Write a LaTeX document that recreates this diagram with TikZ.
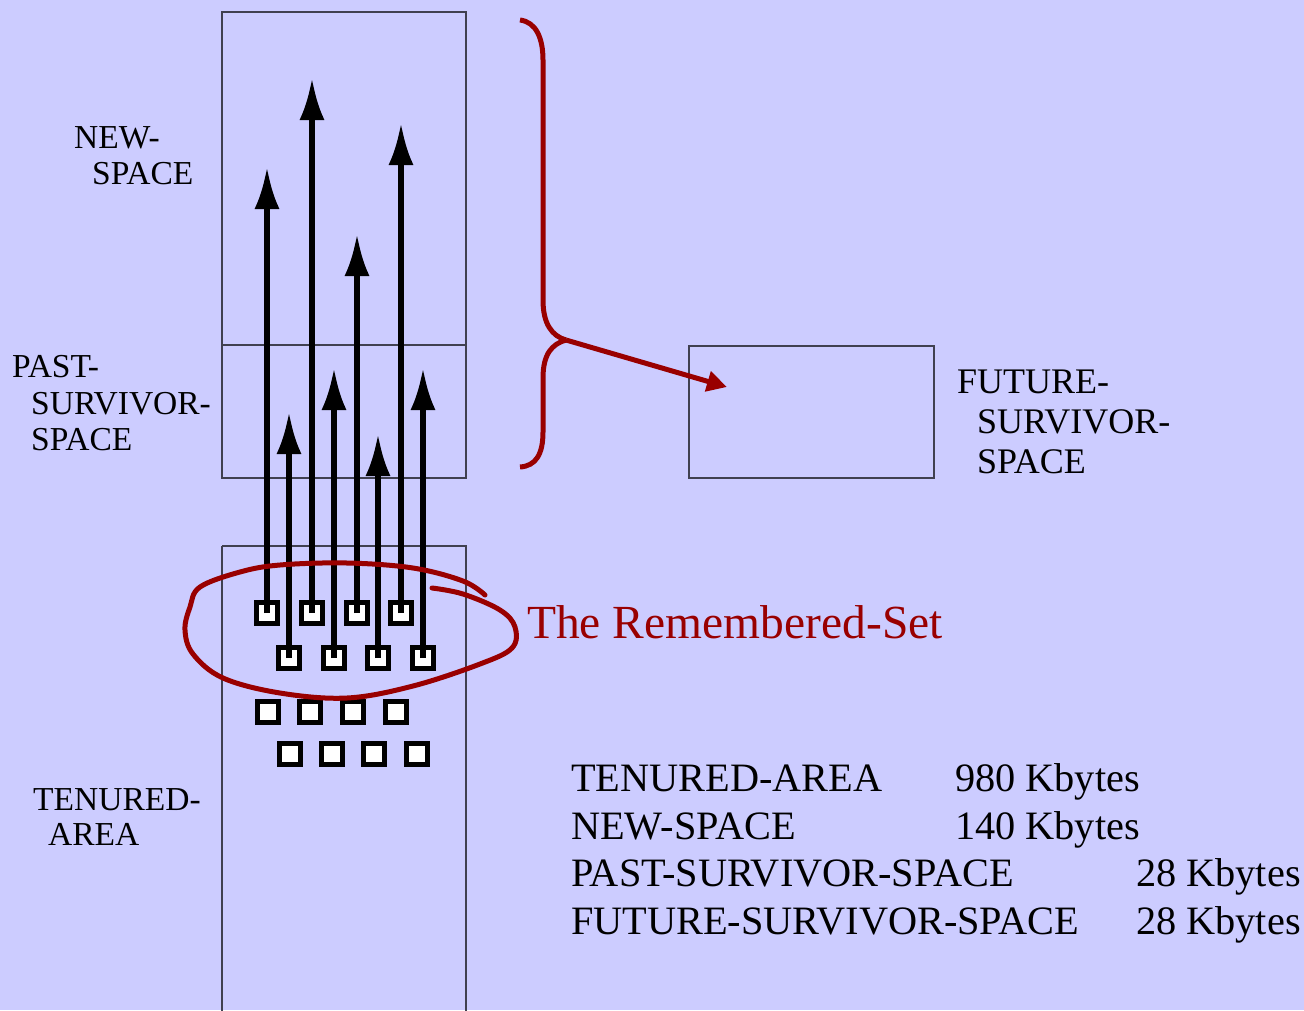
\documentclass[tikz,border=0pt]{standalone}
\usepackage{fontspec}
\setmainfont{Liberation Serif}
\usetikzlibrary{arrows.meta}
\definecolor{bgc}{HTML}{CCCCFF}
\definecolor{darkred}{HTML}{990000}
\definecolor{boxline}{HTML}{404050}
\begin{document}
\begin{tikzpicture}[x=1pt,y=-1pt,
  region/.style={draw=boxline,line width=1.5pt},
  lbl/.style={anchor=base west,inner sep=0pt,font=\fontsize{33.5}{36}\selectfont},
  flbl/.style={anchor=base west,inner sep=0pt,font=\fontsize{36}{40}\selectfont},
  tbl/.style={anchor=base west,inner sep=0pt,font=\fontsize{40.3}{48}\selectfont},
  obj/.style={draw=black,fill=white,line width=5pt,minimum size=21.5pt,inner sep=0pt,rectangle},
  ptr/.style={line width=5.8pt,-{Latex[length=42pt,width=25pt]}},
  redline/.style={draw=darkred,line width=5pt,line cap=round}]
\fill[bgc] (0,0) rectangle (1304,1010);
\useasboundingbox (0,0) rectangle (1304,1010);
% regions
\draw[region] (222,12) rectangle (466,345);
\draw[region] (222,345) rectangle (466,478);
\draw[region] (222,546) -- (222,1012) (466,1012) -- (466,546) -- (222,546);
\draw[region] (689,346) rectangle (934,478);
% labels
\node[lbl] (n1) at (74,148) {NEW-};
\node[lbl] (n2) at (92,184) {SPACE};
\node[lbl] (p1) at (12,377) {PAST-};
\node[lbl] (p2) at (31,414) {SURVIVOR-};
\node[lbl] (p3) at (31,450) {SPACE};
\node[flbl] (f1) at (957,393) {FUTURE-};
\node[flbl] (f2) at (977,433) {SURVIVOR-};
\node[flbl] (f3) at (977,473) {SPACE};
\node[lbl] (t1) at (33,810) {TENURED-};
\node[lbl] (t2) at (48,845) {AREA};
% table
\node[tbl] (r1a) at (571,791) {TENURED-AREA};
\node[tbl] (r1b) at (955,791) {980 Kbytes};
\node[tbl] (r2a) at (571,839) {NEW-SPACE};
\node[tbl] (r2b) at (955,839) {140 Kbytes};
\node[tbl] (r3a) at (571,886) {PAST-SURVIVOR-SPACE};
\node[tbl] (r3b) at (1136,886) {28 Kbytes};
\node[tbl] (r4a) at (571,934) {FUTURE-SURVIVOR-SPACE};
\node[tbl] (r4b) at (1136,934) {28 Kbytes};
% objects
\node[obj] (a1) at (267,613) {};
\node[obj] (a2) at (312,613) {};
\node[obj] (a3) at (357,613) {};
\node[obj] (a4) at (401,613) {};
\node[obj] (b1) at (289,658) {};
\node[obj] (b2) at (334,658) {};
\node[obj] (b3) at (378,658) {};
\node[obj] (b4) at (423,658) {};
\node[obj] (c1) at (268,712) {};
\node[obj] (c2) at (310,712) {};
\node[obj] (c3) at (353,712) {};
\node[obj] (c4) at (396,712) {};
\node[obj] (d1) at (290,754) {};
\node[obj] (d2) at (332,754) {};
\node[obj] (d3) at (374,754) {};
\node[obj] (d4) at (417,754) {};
% pointer tips
\coordinate (ta1) at (267,167);
\coordinate (ta2) at (312,78);
\coordinate (ta3) at (357,234);
\coordinate (ta4) at (401,123);
\coordinate (tb1) at (289,412);
\coordinate (tb2) at (334,368);
\coordinate (tb3) at (378,434);
\coordinate (tb4) at (423,368);
\foreach \s in {a1,a2,a3,a4,b1,b2,b3,b4}
  \draw[ptr] (\s.center) -- (t\s);
% remembered set loop
\draw[redline] plot[smooth,tension=0.6] coordinates {(432,588) (463,594) (500,610) (515,627) (512,648) (480,664) (413,686) (347,698) (280,693) (223,678) (193,654) (185,630) (190,607) (200,587) (240,572) (280,565) (347,563) (413,568) (463,581) (485,595)};
\node[anchor=base west,inner sep=0pt,text=darkred,font=\fontsize{47.5}{50}\selectfont] (rs) at (527,638) {The Remembered-Set};
% brace
\coordinate (bt) at (566,340);
\draw[redline,line cap=butt] (520,20) .. controls (536,22) and (543,38) .. (543,60) -- (543,300) .. controls (543,324) and (552,336) .. (bt);
\draw[redline,line cap=butt] (bt) .. controls (552,344) and (543,354) .. (543,378) -- (543,432) .. controls (543,454) and (536,466) .. (520,467);
\coordinate (fs) at (727,387);
\draw[draw=darkred,line width=5pt,-{Triangle[length=20pt,width=20pt]}] (bt) -- (fs);
\end{tikzpicture}
\end{document}
